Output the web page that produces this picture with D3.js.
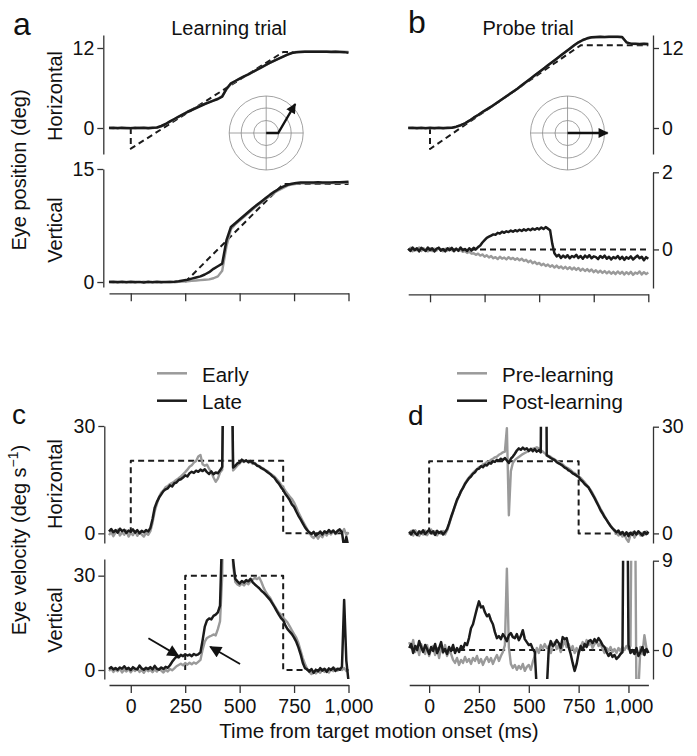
<!DOCTYPE html>
<html>
<head>
<meta charset="utf-8">
<script src="https://cdn.jsdelivr.net/npm/d3@7/dist/d3.min.js"></script>
<style>
  html,body{margin:0;padding:0;background:#fff;}
  svg text{font-family:"Liberation Sans",Arial,Helvetica,sans-serif;fill:#111;}
</style>
</head>
<body>
<svg id="fig" width="697" height="756"></svg>
<script>
// ================= DATA =================
const timeTicks = [0, 250, 500, 750, 1000];
const tickLabelsY = { aH: [0, 12], aV: [0, 15], bH: [0, 12], bV: [0, 2], cH: [0, 30], cV: [0, 30], dH: [0, 30], dV: [0, 9] };
const legendC = ["Early", "Late"];
const legendD = ["Pre-learning", "Post-learning"];

// sampling grids (ms)
const t20 = d3.range(-100, 1001, 20);   // smooth position traces
const t10 = d3.range(-100, 1001, 10);   // b vertical, c
const t10d = d3.range(-100, 1101, 10);  // d

// ---- panel a: horizontal position (deg), 20 ms ----
const aH_late = [
  0, 0.05, -0.05, 0.03, 0,
  -0.04, 0.02, 0, 0.04, -0.03,
  0.02, 0.08, 0.3, 0.6, 1.0,
  1.35, 1.7, 2.05, 2.4, 2.7,
  3.0, 3.3, 3.6, 3.85, 4.1,
  4.35, 4.7, 5.9, 6.7, 7.05,
  7.4, 7.75, 8.05, 8.4, 8.75,
  9.1, 9.45, 9.8, 10.1, 10.4,
  10.7, 11.0, 11.25, 11.35, 11.4,
  11.42, 11.45, 11.43, 11.45, 11.42,
  11.44, 11.41, 11.43, 11.4, 11.38,
  11.3];
const aH_early = [
  0.03, -0.04, 0.05, 0, -0.03,
  0.02, -0.05, 0.03, 0, 0.04,
  0.0, 0.05, 0.25, 0.55, 0.95,
  1.3, 1.68, 2.05, 2.42, 2.75,
  3.05, 3.35, 3.62, 3.9, 4.15,
  4.4, 4.8, 5.8, 6.6, 7.0,
  7.38, 7.72, 8.05, 8.38, 8.75,
  9.1, 9.42, 9.78, 10.1, 10.42,
  10.72, 11.02, 11.28, 11.4, 11.45,
  11.48, 11.47, 11.5, 11.48, 11.5,
  11.47, 11.5, 11.48, 11.46, 11.45,
  11.42];
const aH_targetT = [0, 0, 700, 1000];
const aH_target  = [0, -3.1, 11.4, 11.4];

// ---- panel a: vertical position (deg), 20 ms ----
const aV_late = [
  0, 0.05, -0.04, 0.03, -0.02,
  0.04, -0.03, 0.02, -0.05, 0.03,
  -0.02, 0.04, -0.03, 0.02, 0.0,
  0.03, 0.1, 0.2, 0.3, 0.45,
  0.6, 0.75, 1.0, 1.3, 1.75,
  2.1, 2.45, 5.6, 7.3, 7.8,
  8.3, 8.8, 9.3, 9.8, 10.25,
  10.7, 11.15, 11.6, 12.0, 12.35,
  12.65, 12.9, 13.05, 13.15, 13.2,
  13.2, 13.22, 13.2, 13.23, 13.2,
  13.22, 13.2, 13.24, 13.25, 13.28,
  13.3];
const aV_early = [
  0.03, -0.03, 0.04, -0.02, 0.02,
  -0.03, 0.04, -0.02, 0.03, -0.04,
  0.02, -0.03, 0.04, -0.02, 0.03,
  -0.02, 0.02, 0.05, 0.1, 0.15,
  0.2, 0.25, 0.3, 0.35, 0.5,
  0.75, 1.5, 4.8, 7.0, 7.65,
  8.15, 8.65, 9.15, 9.65, 10.1,
  10.55, 11.0, 11.45, 11.85, 12.2,
  12.5, 12.8, 12.95, 13.05, 13.1,
  13.12, 13.1, 13.13, 13.1, 13.12,
  13.1, 13.13, 13.12, 13.15, 13.18,
  13.2];
const aV_targetT = [250, 700, 1000];
const aV_target  = [0, 13.0, 13.0];

// ---- panel b: horizontal position (deg), 20 ms ----
const bH_post = [
  0, 0.04, -0.03, 0.02, -0.04,
  0.03, -0.02, 0.04, -0.03, 0.02,
  0.05, 0.2, 0.42, 0.7, 1.1,
  1.55, 1.95, 2.4, 2.8, 3.2,
  3.65, 4.1, 4.55, 5.0, 5.45,
  5.9, 6.4, 6.9, 7.4, 7.9,
  8.4, 8.9, 9.4, 9.9, 10.4,
  10.9, 11.4, 11.9, 12.4, 12.85,
  13.2, 13.45, 13.6, 13.65, 13.68,
  13.66, 13.7, 13.67, 13.69, 13.65,
  12.85, 12.65, 12.62, 12.6, 12.63,
  12.6];
const bH_pre = [
  0.03, -0.02, 0.04, -0.03, 0.02,
  -0.03, 0.04, -0.02, 0.03, -0.03,
  0.02, 0.18, 0.4, 0.68, 1.08,
  1.53, 1.93, 2.38, 2.78, 3.18,
  3.63, 4.08, 4.53, 4.98, 5.43,
  5.88, 6.38, 6.88, 7.38, 7.88,
  8.38, 8.88, 9.38, 9.88, 10.38,
  10.88, 11.38, 11.88, 12.37, 12.82,
  13.17, 13.42, 13.57, 13.62, 13.64,
  13.63, 13.66, 13.64, 13.65, 13.62,
  12.83, 12.62, 12.6, 12.58, 12.6,
  12.58];
const bH_targetT = [0, 0, 690, 1000];
const bH_target  = [0, -3.15, 12.4, 12.4];

// ---- panel b: vertical position (deg), 10 ms ----
const bV_post = [
  0.02, -0.04, 0.05, -0.02, 0.03, -0.05, 0.04, 0.0, -0.04, 0.05,
  -0.02, 0.03, -0.05, 0.02, 0.04, -0.03, 0.01, -0.05, 0.03, -0.02,
  0.04, -0.04, 0.02, -0.03, 0.05, -0.02, 0.01, -0.04, 0.03, -0.03,
  0.04, 0.0, 0.06, 0.1, 0.18, 0.24, 0.3, 0.33, 0.36, 0.39,
  0.38, 0.43, 0.41, 0.46, 0.43, 0.47, 0.45, 0.49, 0.46, 0.5,
  0.47, 0.51, 0.48, 0.52, 0.49, 0.53, 0.5, 0.54, 0.51, 0.55,
  0.52, 0.57, 0.53, 0.58, 0.54, 0.5, 0.15, -0.1, -0.18, -0.14,
  -0.22, -0.16, -0.21, -0.15, -0.23, -0.17, -0.2, -0.14, -0.22, -0.17,
  -0.24, -0.16, -0.21, -0.15, -0.23, -0.18, -0.2, -0.25, -0.17, -0.22,
  -0.16, -0.24, -0.19, -0.26, -0.2, -0.23, -0.17, -0.25, -0.19, -0.27,
  -0.2, -0.24, -0.18, -0.26, -0.21, -0.16, -0.23, -0.19, -0.28, -0.2,
  -0.24];
const bV_pre = [
  -0.03, 0.04, -0.05, 0.02, -0.02, 0.05, -0.04, 0.03, -0.01, -0.05,
  0.03, -0.04, 0.02, -0.03, 0.05, -0.02, -0.05, 0.02, -0.03, 0.04,
  -0.02, -0.05, 0.01, -0.04, -0.01, -0.06, -0.04, -0.09, -0.06, -0.11,
  -0.1, -0.14, -0.11, -0.16, -0.13, -0.19, -0.15, -0.21, -0.17, -0.23,
  -0.2, -0.25, -0.19, -0.24, -0.21, -0.26, -0.2, -0.25, -0.22, -0.27,
  -0.23, -0.28, -0.24, -0.3, -0.27, -0.33, -0.29, -0.36, -0.32, -0.38,
  -0.35, -0.41, -0.37, -0.43, -0.39, -0.45, -0.41, -0.47, -0.42, -0.48,
  -0.44, -0.5, -0.45, -0.51, -0.46, -0.52, -0.47, -0.53, -0.48, -0.55,
  -0.5, -0.56, -0.51, -0.57, -0.52, -0.59, -0.54, -0.6, -0.55, -0.61,
  -0.56, -0.62, -0.57, -0.63, -0.58, -0.64, -0.57, -0.63, -0.58, -0.65,
  -0.59, -0.64, -0.58, -0.66, -0.6, -0.63, -0.57, -0.65, -0.59, -0.64,
  -0.6];
const bV_targetT = [0, 1000];
const bV_target  = [0, 0];

// ---- panel c: horizontal velocity (deg/s), 10 ms ----
const cH_late = [
  0.5, 1.2, 0.3, 0.9, 0.2, 1.3, 0.6, 1.0, 0.1, 0.8,
  0.4, 1.1, 0.2, 0.9, 0.0, 0.7, 0.3, 0.9, 0.5, 1.5,
  4.0, 7.2, 8.8, 10.0, 10.9, 11.8, 12.3, 12.6, 13.4, 13.1,
  14.0, 14.2, 14.9, 15.1, 15.6, 16.2, 15.9, 16.8, 17.2, 16.9,
  17.5, 17.2, 17.8, 17.4, 17.9, 17.1, 16.6, 17.3, 16.5, 17.0,
  16.8, 17.6, 18.6, 70, 130, 130, 70, 18.4, 18.9, 19.6,
  19.8, 20.6, 20.1, 20.4, 19.9, 20.2, 19.7, 19.5, 18.9, 18.7,
  18.2, 17.9, 17.5, 17.0, 16.6, 16.0, 15.5, 14.6, 13.9, 12.9,
  12.1, 11.0, 10.2, 9.3, 8.1, 7.4, 6.1, 4.9, 3.9, 2.8,
  1.7, 0.9, 0.3, -0.2, 0.4, -0.6, -0.2, 0.5, -0.3, 0.6,
  0.1, 0.9, 0.2, 0.8, 0.0, 0.7, 1.1, 0.3, -4, -1,
  -4];
const cH_early = [
  -0.5, 0.4, -0.8, 0.2, 1.0, -0.6, 0.3, -0.4, 0.8, -0.9,
  0.2, -0.5, 0.6, -0.7, 0.4, -0.3, -0.9, 0.1, -0.4, 0.6,
  3.0, 6.2, 8.2, 10.2, 11.4, 12.0, 12.9, 13.2, 13.8, 14.1,
  14.5, 15.0, 15.4, 15.9, 16.5, 17.1, 17.8, 18.6, 19.0, 19.8,
  20.2, 21.5, 21.9, 19.3, 18.9, 19.2, 18.0, 17.1, 15.6, 14.4,
  15.3, 17.0, 17.8, 60, 120, 120, 60, 17.6, 18.3, 19.0,
  19.5, 20.3, 19.9, 20.4, 19.8, 20.0, 19.4, 19.7, 19.1, 18.8,
  18.4, 18.1, 17.6, 17.3, 16.7, 16.3, 15.9, 15.2, 14.5, 13.6,
  12.8, 11.9, 11.1, 10.3, 9.6, 8.6, 7.3, 5.8, 4.6, 3.4,
  2.3, 1.2, 0.1, -0.8, -1.3, -0.5, -1.5, -0.4, -1.1, 0.2,
  -0.6, 0.5, -0.3, 0.6, -0.2, 0.4, 0.9, 0.2, 1.2, -0.5,
  0.3];
const cH_targetT = [0, 0, 700, 700, 1000];
const cH_target  = [0, 20.3, 20.3, 0, 0];

// ---- panel c: vertical velocity (deg/s), 10 ms ----
const cV_late = [
  0.3, 0.9, 0.2, 0.6, 0.1, 0.8, 0.4, 1.2, 0.3, 0.7,
  0.0, 0.9, 0.4, 0.2, 1.4, 0.5, 0.1, 0.7, 0.3, 0.9,
  0.2, 1.3, 0.4, 0.1, 0.8, 0.3, 1.0, 0.7, 1.5, 2.6,
  3.5, 4.3, 4.0, 4.8, 4.4, 5.0, 4.6, 4.9, 4.4, 5.1,
  4.7, 5.0, 5.6, 9.5, 13.8, 15.8, 16.4, 16.1, 17.2, 17.6,
  18.3, 20.5, 45, 110, 130, 110, 70, 35, 29.0, 28.2,
  27.5, 28.3, 27.8, 28.6, 28.2, 29.0, 27.9, 27.2, 26.6, 26.0,
  25.2, 24.6, 23.9, 23.1, 22.3, 21.2, 20.1, 18.8, 17.6, 16.5,
  15.8, 14.2, 13.0, 12.2, 11.4, 10.3, 9.0, 7.2, 5.0, 2.3,
  0.6, 0.2, -0.5, 0.3, -0.9, 0.1, -0.4, 0.6, -0.2, 0.4,
  -0.6, 0.5, 0.0, 0.8, -0.3, 0.4, 0.1, 1.0, 22.3, 3.0,
  -3.5];
const cV_early = [
  -0.3, 0.5, -0.6, 0.2, -0.4, 0.4, -0.8, 0.1, -0.5, 0.3,
  -0.7, 0.2, -0.3, 0.5, -0.6, 0.0, -0.9, 0.3, -0.4, 0.1,
  -0.7, 0.2, -0.5, 0.4, -0.2, -0.8, 0.1, -0.5, 0.3, -0.1,
  0.5, 1.2, 1.6, 2.0, 1.5, 2.2, 1.7, 2.3, 1.8, 2.4,
  2.0, 2.6, 3.2, 6.5, 9.0, 10.2, 10.6, 10.9, 11.3, 11.0,
  13.0, 15.5, 30, 90, 120, 100, 60, 33, 28.0, 27.2,
  26.8, 27.5, 26.9, 27.8, 27.3, 28.2, 28.8, 29.3, 28.9, 29.4,
  28.0, 26.2, 24.8, 23.8, 23.0, 21.6, 20.4, 19.3, 18.2, 17.6,
  16.6, 15.9, 15.1, 13.9, 12.6, 11.4, 10.3, 8.6, 6.2, 3.8,
  1.9, 0.4, -0.6, -1.3, -0.5, -1.1, -0.3, -0.9, 0.2, -0.6,
  0.1, -0.8, 0.3, -0.4, 0.4, -0.2, 0.5, 0.0, 0.6, -0.3,
  0.2];
const cV_targetT = [250, 250, 700, 700, 1000];
const cV_target  = [0, 30, 30, 0, 0];

// ---- panel d: horizontal velocity (deg/s), 10 ms ----
const dH_post = [
  0.5, -0.3, 0.8, 0.1, -0.5, 0.6, 0.0, 0.9, -0.2, 0.4,
  1.0, 0.0, 0.6, -0.4, 0.7, 0.1, 0.5, -0.3, 0.4, 1.2,
  2.8, 4.6, 6.2, 7.9, 9.5, 10.6, 11.9, 12.8, 13.9, 14.7,
  15.5, 16.0, 16.8, 17.2, 18.0, 18.2, 18.9, 18.6, 19.3, 19.1,
  19.8, 19.6, 20.3, 20.1, 20.7, 20.4, 21.0, 20.6, 21.2, 20.5,
  19.8, 21.0, 21.6, 22.4, 23.3, 23.9, 23.5, 24.1, 23.6, 23.9,
  23.2, 23.8, 23.1, 23.7, 23.0, 23.4, 22.8, 120, 120, 21.9,
  21.6, 21.2, 20.9, 20.6, 20.0, 19.7, 19.4, 19.0, 18.5, 18.2,
  17.7, 17.4, 16.9, 16.6, 16.2, 15.9, 15.1, 14.6, 13.9, 13.4,
  12.9, 11.9, 10.9, 9.9, 8.8, 7.7, 6.5, 5.6, 4.6, 3.8,
  2.9, 2.1, 1.4, 0.9, 0.3, 0.8, -0.2, 0.4, -0.5, 0.3,
  -0.8, 0.2, -0.4, 0.5, -0.3, 0.6, 0.0, -0.6, 0.4, -0.2,
  0.5];
const dH_pre = [
  -0.4, 0.7, -0.6, 0.9, 0.2, -0.7, 0.5, -0.3, 0.8, -0.5,
  0.3, 1.1, -0.2, 0.6, -0.6, 0.4, -0.1, 0.7, -0.3, 0.8,
  2.5, 4.3, 6.0, 7.6, 9.2, 10.5, 11.7, 12.9, 14.1, 15.0,
  15.7, 16.4, 17.0, 17.6, 18.1, 18.6, 18.8, 19.4, 19.6, 20.1,
  20.2, 20.7, 21.0, 21.4, 21.6, 22.1, 22.4, 22.8, 23.0, 29.6,
  5.1, 17.5, 19.8, 20.6, 21.1, 21.5, 21.9, 22.3, 22.6, 22.9,
  23.1, 23.5, 23.8, 24.0, 24.2, 23.9, 23.4, 23.0, 22.5, 22.1,
  21.8, 21.5, 21.1, 20.8, 20.4, 20.1, 19.7, 19.4, 18.9, 18.5,
  18.2, 17.8, 17.3, 16.9, 16.5, 16.1, 15.6, 15.0, 14.4, 13.7,
  13.0, 12.2, 11.3, 10.2, 9.1, 8.0, 6.9, 5.9, 4.9, 3.9,
  3.0, 2.2, 1.5, 0.6, 0.0, -0.6, 0.2, -0.9, -0.3, -1.6,
  -2.4, -0.5, 0.3, -1.2, -0.2, 0.5, -0.6, 0.2, -0.4, 0.6,
  -0.1];
const dH_targetT = [0, 0, 750, 750, 1100];
const dH_target  = [0, 20.3, 20.3, 0, 0];

// ---- panel d: vertical velocity (deg/s), 10 ms ----
const dV_post = [
  0.2, 0.6, -0.3, 0.4, 0.0, 0.9, 0.3, -0.2, 0.5, 0.1,
  -0.4, 0.3, -0.1, 0.6, -0.3, 0.2, 0.8, -0.2, 0.1, -0.4,
  0.3, -0.1, 0.5, -0.3, 0.2, -0.2, 0.4, 0.1, 0.7, 0.5,
  1.2, 2.2, 2.6, 3.4, 4.2, 4.9, 4.3, 4.4, 3.8, 3.4,
  3.6, 3.0, 2.6, 1.8, 1.2, 1.4, 1.1, 1.6, 1.3, 0.9,
  1.5, 1.7, 1.3, 1.2, 1.6, 1.0, 1.4, 2.0, 1.1, 0.8,
  0.5, 0.6, 0.1, -0.2, -4, -5, -5, -5, -5, -4,
  0.1, 0.9, 0.4, 0.6, 1.0, 0.7, 0.2, 1.3, 1.1, 1.2,
  0.3, -0.4, -1.3, -2.1, -1.4, -0.3, 0.4, 0.0, 0.6, 0.3,
  0.9, 1.0, 0.7, 1.1, 0.8, 1.2, 0.9, 0.5, 0.3, -0.2,
  -0.6, -0.3, -0.7, -0.5, -0.9, -0.7, -0.4, -0.2, 30, 30,
  0.5, -0.3, 0.0, -0.4, 0.2, -0.6, -0.2, 0.3, -0.5, 0.1,
  -0.3];
const dV_pre = [
  0.8, 0.2, 1.0, -0.2, 0.4, -0.5, 0.6, 0.0, -0.4, 0.5,
  -0.6, 0.1, 0.4, -0.5, 0.2, -0.8, 0.3, -0.3, 0.5, -0.6,
  0.0, -0.4, -1.0, -1.3, -0.8, -1.5, -1.0, -1.3, -0.7, -1.2,
  -0.9, -1.4, -0.8, -1.1, -0.6, -1.3, -0.9, -1.5, -1.0, -0.7,
  -1.2, -0.8, -1.4, -0.9, -0.5, -1.1, -0.6, -0.2, 0.5, 8.2,
  0.3, -1.4, -1.8, -1.5, -2.0, -1.6, -1.9, -1.4, -2.1, -1.7,
  -1.5, -2.0, -1.2, -0.6, 0.2, -0.3, 0.5, 0.1, 0.6, 0.2,
  0.4, -0.3, 0.3, 0.8, 0.1, 0.5, -0.2, 0.4, 0.9, 0.3,
  0.6, 0.0, 0.4, -0.3, 0.2, -0.4, 0.3, 0.8, 0.4, 1.0,
  0.5, 0.8, 0.2, 0.6, 0.9, 0.4, 0.7, 0.1, -0.3, 0.2,
  -0.1, 0.3, -0.2, 0.1, -0.3, 0.2, -0.1, 0.3, 0.0, 0.4,
  0.1, 0.4, 25, 25, -5, -4, 0.3, -0.4, 1.5, 0.2,
  -0.3];
const dV_targetT = [0, 1100];
const dV_target  = [0, 0];

// annotation arrows in panel c (vertical) — [time, value] of tail and tip
const arrowTails = [[81, 10.1], [502, 1.9]];
const arrowTips  = [[219, 4.5], [365, 7.4]];

// ================= DRAWING =================
const COL_BLACK = "#1b1b1b", COL_GRAY = "#9a9a9a", COL_AXIS = "#333";
const svg = d3.select("#fig");
const defs = svg.append("defs");
defs.append("marker").attr("id", "head").attr("viewBox", "0 0 10 10")
  .attr("refX", 9).attr("refY", 5).attr("markerUnits", "userSpaceOnUse")
  .attr("markerWidth", 13).attr("markerHeight", 12).attr("orient", "auto")
  .append("path").attr("d", "M0,0L10,5L0,10Z").attr("fill", "#111");
defs.append("marker").attr("id", "head2").attr("viewBox", "0 0 10 10")
  .attr("refX", 9).attr("refY", 5).attr("markerUnits", "userSpaceOnUse")
  .attr("markerWidth", 11).attr("markerHeight", 10).attr("orient", "auto")
  .append("path").attr("d", "M0,0L10,5L0,10Z").attr("fill", "#111");

function check(name, arr, grid) {
  if (arr.length !== grid.length) throw new Error(name + " length " + arr.length + " != " + grid.length);
}

const xA = d3.scaleLinear([-100, 1000], [109, 348.5]);
const xB = d3.scaleLinear([-100, 1000], [408.2, 648.3]);
const xD = d3.scaleLinear([-100, 1100], [409.2, 648.4]);

function styleAxis(ag, fs) {
  ag.select(".domain").attr("stroke", COL_AXIS).attr("stroke-width", 1.3);
  ag.selectAll(".tick line").attr("stroke", COL_AXIS).attr("stroke-width", 1.3);
  ag.selectAll(".tick text").attr("fill", "#111").attr("font-size", fs)
    .attr("font-family", '"Liberation Sans",Arial,sans-serif');
}

function panel(id, x, yDom, yRng, side, axisX, ticks) {
  const y = d3.scaleLinear(yDom, yRng);
  const xr = x.range();
  defs.append("clipPath").attr("id", "clip-" + id).append("rect")
    .attr("x", xr[0] - 2).attr("y", yRng[1])
    .attr("width", xr[1] - xr[0] + 4).attr("height", yRng[0] - yRng[1]);
  const axis = (side === "left" ? d3.axisLeft(y) : d3.axisRight(y))
    .tickValues(ticks).tickFormat(d3.format("d"))
    .tickSize(6).tickSizeOuter(0).tickPadding(3);
  const ag = svg.append("g").attr("transform", `translate(${axisX},0)`).call(axis);
  styleAxis(ag, 19.5);
  const g = svg.append("g").attr("clip-path", `url(#clip-${id})`);
  return { x, y, g };
}

function trace(p, times, vals, color, width, dash) {
  check("trace", vals, times);
  const line = d3.line().x(d => p.x(d[0])).y(d => p.y(d[1]));
  p.g.append("path").datum(d3.zip(times, vals)).attr("d", line)
    .attr("fill", "none").attr("stroke", color).attr("stroke-width", width)
    .attr("stroke-linejoin", "round")
    .attr("stroke-dasharray", dash || null);
}

function xAxis(x, yPos, labels) {
  const ax = d3.axisBottom(x).tickValues(timeTicks).tickSize(8).tickSizeOuter(0)
    .tickPadding(6).tickFormat(labels ? d3.format(",") : () => "");
  const ag = svg.append("g").attr("transform", `translate(0,${yPos})`).call(ax);
  styleAxis(ag, 19.5);
}

// panels
const pAH = panel("aH", xA, [-3.9, 13.95], [154, 35], "left", 103.3, tickLabelsY.aH);
const pAV = panel("aV", xA, [-0.66, 15], [287, 169], "left", 103.3, tickLabelsY.aV);
const pBH = panel("bH", xB, [-3.9, 13.95], [154, 35], "right", 653, tickLabelsY.bH);
const pBV = panel("bV", xB, [-1.0, 2], [288, 172.3], "right", 653, tickLabelsY.bV);
const pCH = panel("cH", xA, [-2.7, 30], [543, 426], "left", 104.3, tickLabelsY.cH);
const pCV = panel("cV", xA, [-2.86, 35.3], [679, 559], "left", 104.3, tickLabelsY.cV);
const pDH = panel("dH", xD, [-2.7, 30], [543, 426.7], "right", 653, tickLabelsY.dH);
const pDV = panel("dV", xD, [-2.92, 9], [679, 560.7], "right", 653, tickLabelsY.dV);

xAxis(xA, 293.3, false);
xAxis(xB, 294.3, false);
xAxis(xA, 685, true);
xAxis(xD, 685, true);

const DASH = "6,4";
function drawSet(p, tt, tv, grid, gray, black) {
  trace(p, tt, tv, COL_BLACK, 2, DASH);
  trace(p, grid, gray, COL_GRAY, 2.4);
  trace(p, grid, black, COL_BLACK, 2.5);
}
drawSet(pAH, aH_targetT, aH_target, t20, aH_early, aH_late);
drawSet(pAV, aV_targetT, aV_target, t20, aV_early, aV_late);
drawSet(pBH, bH_targetT, bH_target, t20, bH_pre, bH_post);
drawSet(pBV, bV_targetT, bV_target, t10, bV_pre, bV_post);
drawSet(pCH, cH_targetT, cH_target, t10, cH_early, cH_late);
drawSet(pCV, cV_targetT, cV_target, t10, cV_early, cV_late);
drawSet(pDH, dH_targetT, dH_target, t10d, dH_pre, dH_post);
drawSet(pDV, dV_targetT, dV_target, t10d, dV_pre, dV_post);

// arrows in c vertical
arrowTails.forEach((tail, i) => {
  const tip = arrowTips[i];
  svg.append("line")
    .attr("x1", pCV.x(tail[0])).attr("y1", pCV.y(tail[1]))
    .attr("x2", pCV.x(tip[0])).attr("y2", pCV.y(tip[1]))
    .attr("stroke", "#111").attr("stroke-width", 1.8).attr("marker-end", "url(#head)");
});

// polar insets (target direction)
function inset(p, t, v, bend, tip) {
  const cx = p.x(t), cy = p.y(v);
  const g = svg.append("g").attr("transform", `translate(${cx},${cy})`);
  [12.5, 25, 37].forEach(r => g.append("circle").attr("r", r)
    .attr("fill", "none").attr("stroke", "#8a8a8a").attr("stroke-width", 0.8));
  g.append("line").attr("x1", -37).attr("x2", 37).attr("y1", 0).attr("y2", 0)
    .attr("stroke", "#8a8a8a").attr("stroke-width", 0.8);
  g.append("line").attr("y1", -37).attr("y2", 37).attr("x1", 0).attr("x2", 0)
    .attr("stroke", "#8a8a8a").attr("stroke-width", 0.8);
  const pts = [[0, 0]].concat(bend ? [bend] : []).concat([tip]);
  g.append("path").attr("d", d3.line()(pts)).attr("fill", "none")
    .attr("stroke", "#111").attr("stroke-width", 2.4).attr("stroke-linejoin", "miter")
    .attr("marker-end", "url(#head2)");
}
inset(pAH, 622, -0.75, [12, 0], [29, -29]);
inset(pBH, 630, -0.75, null, [40, 0]);

// ---- text ----
function txt(x, y, s, size, anchor, rotate) {
  const t = svg.append("text").attr("font-size", size).attr("text-anchor", anchor || "start");
  if (rotate) t.attr("transform", `translate(${x},${y}) rotate(-90)`);
  else t.attr("x", x).attr("y", y);
  t.text(s);
  return t;
}
txt(13, 35, "a", 32);
txt(408, 33, "b", 32);
txt(12, 424, "c", 28);
txt(408, 425, "d", 28);
txt(229, 35, "Learning trial", 20, "middle");
txt(528, 35, "Probe trial", 20, "middle");
txt(61.5, 96, "Horizontal", 20, "middle", true);
txt(61.5, 230, "Vertical", 20, "middle", true);
txt(26, 170, "Eye position (deg)", 20, "middle", true);
txt(61.5, 484, "Horizontal", 20, "middle", true);
txt(61.5, 620, "Vertical", 20, "middle", true);
const ev = svg.append("text").attr("font-size", 20).attr("text-anchor", "middle")
  .attr("transform", "translate(26,540) rotate(-90)");
ev.append("tspan").text("Eye velocity (deg s");
ev.append("tspan").attr("font-size", 14).attr("dy", -8).text("\u22121");
ev.append("tspan").attr("dy", 8).text(")");
txt(379, 738, "Time from target motion onset (ms)", 20.5, "middle");

// legends
function legend(x0, names) {
  const ys = [373.3, 400.7];
  [COL_GRAY, COL_BLACK].forEach((c, i) => {
    svg.append("line").attr("x1", x0).attr("x2", x0 + 30).attr("y1", ys[i]).attr("y2", ys[i])
      .attr("stroke", c).attr("stroke-width", 2.5);
    txt(x0 + 45, ys[i] + 8.5, names[i], 20.5);
  });
}
legend(157, legendC);
legend(457, legendD);
</script>
</body>
</html>
